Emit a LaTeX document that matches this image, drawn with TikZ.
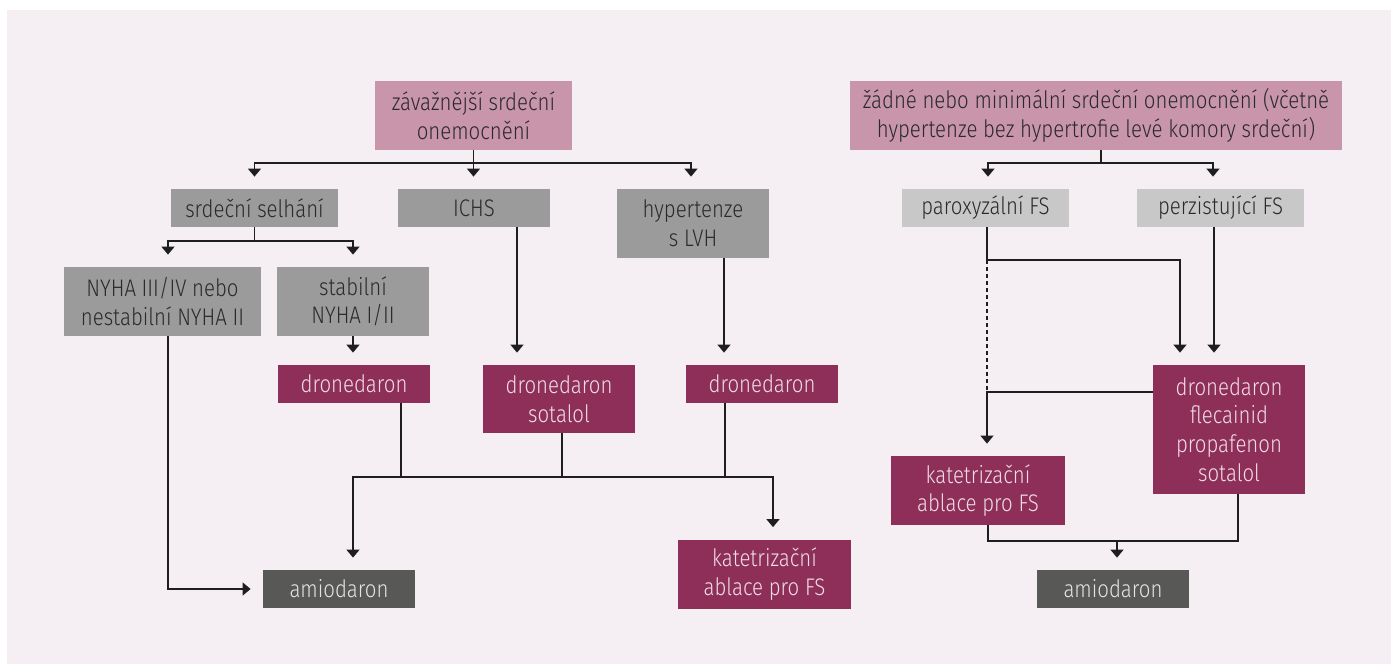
\documentclass[tikz,border=0pt]{standalone}
\usepackage{fontspec}
\setmainfont{Fira Sans}[UprightFont=* Light, FakeStretch=0.85]
\usetikzlibrary{arrows.meta}
\definecolor{panelbg}{HTML}{F5EFF3}
\definecolor{topbox}{HTML}{C895AA}
\definecolor{midgrey}{HTML}{9B9B9B}
\definecolor{lightgrey}{HTML}{C8C8C8}
\definecolor{drug}{HTML}{8E2F5A}
\definecolor{drugtext}{HTML}{F0DDE7}
\definecolor{amio}{HTML}{585856}
\definecolor{amiotext}{HTML}{E4E4E4}
\definecolor{linec}{HTML}{1E1E1E}
\definecolor{darktext}{HTML}{2A2A2A}
\begin{document}
\begin{tikzpicture}[x=0.5pt,y=-0.5pt,
 box/.style={inner sep=0pt, align=center, font=\fontsize{12pt}{14.3pt}\selectfont, minimum height=19pt},
 tall/.style={minimum height=34.5pt},
 topn/.style={box, fill=topbox, text=darktext},
 greyn/.style={box, fill=midgrey, text=darktext},
 lgreyn/.style={box, fill=lightgrey, text=darktext},
 drugn/.style={box, fill=drug, text=drugtext},
 amion/.style={box, fill=amio, text=amiotext},
 conn/.style={draw=linec, line width=0.75pt},
 arr/.style={conn, -{Triangle[width=6.5pt,length=4pt]}, shorten >=6pt},
]
\fill[white] (0,0) rectangle (1391,664);
\fill[panelbg] (7,10) rectangle (1391,664);
\useasboundingbox (0,0) rectangle (1391,664);

% left part
\node[topn, minimum width=98.5pt, tall] (t1) at (473.5,115.5) {závažnější srdeční\\onemocnění};
\node[greyn, minimum width=83.5pt] (sel) at (254.5,208) {srdeční selhání};
\node[greyn, minimum width=76pt] (ichs) at (474,208) {ICHS};
\node[greyn, minimum width=76pt, tall] (lvh) at (693,223.5) {hypertenze\\s LVH};
\node[greyn, minimum width=98.5pt, tall] (nyha) at (162.5,301.5) {NYHA III/IV nebo\\nestabilní NYHA II};
\node[greyn, minimum width=76pt, tall] (stab) at (353,301.5) {stabilní\\NYHA I/II};
\node[drugn, minimum width=76pt] (dr1) at (354,384) {dronedaron};
\node[drugn, minimum width=76pt, minimum height=34pt] (dr2) at (559,399) {dronedaron\\sotalol};
\node[drugn, minimum width=76pt] (dr3) at (762,384) {dronedaron};
\node[amion, minimum width=76pt] (amio1) at (339,589) {amiodaron};
\node[drugn, minimum width=86.5pt, tall] (kat1) at (764.5,574) {katetrizační\\ablace pro FS};

% right part
\node[topn, minimum width=246pt, tall] (t2) at (1096,115.5) {žádné nebo minimální srdeční onemocnění (včetně\\hypertenze bez hypertrofie levé komory srdeční)};
\node[lgreyn, minimum width=83.5pt] (par) at (985.5,208) {paroxyzální FS};
\node[lgreyn, minimum width=83.5pt] (per) at (1220.5,208) {perzistující FS};
\node[drugn, minimum width=76pt, minimum height=64.5pt] (drf) at (1229,429.5) {dronedaron\\flecainid\\propafenon\\sotalol};
\node[drugn, minimum width=87pt, tall] (kat2) at (978,490.5) {katetrizační\\ablace pro FS};
\node[amion, minimum width=76pt] (amio2) at (1113,589) {amiodaron};

% left connectors
\coordinate (j1) at (473.5,163);
\draw[conn] (t1.south) -- (j1);
\draw[arr] (j1) -| (sel.north);
\draw[arr] (j1) -- (j1 |- ichs.north);
\draw[arr] (j1) -| ([xshift=-1pt]lvh.north);
\coordinate (j2) at (254.5,241);
\draw[conn] (sel.south) -- (j2);
\draw[arr] (j2) -| ([xshift=2.75pt]nyha.north);
\draw[arr] (j2) -| (stab.north);
\draw[arr] (stab.south) -- (stab.south |- dr1.north);
\draw[arr] ([xshift=21.5pt]ichs.south) -- ([xshift=21.5pt]ichs.south |- dr2.north);
\draw[arr] ([xshift=15.5pt]lvh.south) -- ([xshift=15.5pt]lvh.south |- dr3.north);
\coordinate (m) at (562,477);
\draw[conn] ([xshift=23.5pt]dr1.south) -- ([xshift=23.5pt]dr1.south |- m);
\draw[conn] ([xshift=1.5pt]dr2.south) -- (m);
\draw[conn] ([xshift=-18.5pt]dr3.south) -- ([xshift=-18.5pt]dr3.south |- m);
\draw[arr] (m) -| ([xshift=7pt]amio1.north);
\draw[arr] (m) -| ([xshift=4.25pt]kat1.north);
\draw[arr] ([xshift=2.75pt]nyha.south) |- (amio1.west);

% right connectors
\coordinate (k1) at (1101,163);
\draw[conn] ([xshift=2.5pt]t2.south) -- (k1);
\draw[arr] (k1) -| ([xshift=1.25pt]par.north);
\draw[arr] (k1) -| ([xshift=-3.75pt]per.north);
\coordinate (k2) at (987,260);
\coordinate (k3) at (987,392);
\draw[arr] ([xshift=0.75pt]par.south) -- (k2) -| ([xshift=-24.5pt]drf.north);
\draw[arr] ([xshift=-3.25pt]per.south) -- ([xshift=-3.25pt]per.south |- drf.north);
\draw[conn, dash pattern=on 2pt off 1.5pt] (k2) -- (k3);
\draw[arr] (drf.west |- k3) -- (k3) -- (k3 |- kat2.north);
\coordinate (k4) at (1117,541);
\draw[conn] ([xshift=5pt]kat2.south) |- (k4);
\draw[conn] ([xshift=4.5pt]drf.south) |- (k4);
\draw[arr] (k4) -- (k4 |- amio2.north);
\end{tikzpicture}
\end{document}
